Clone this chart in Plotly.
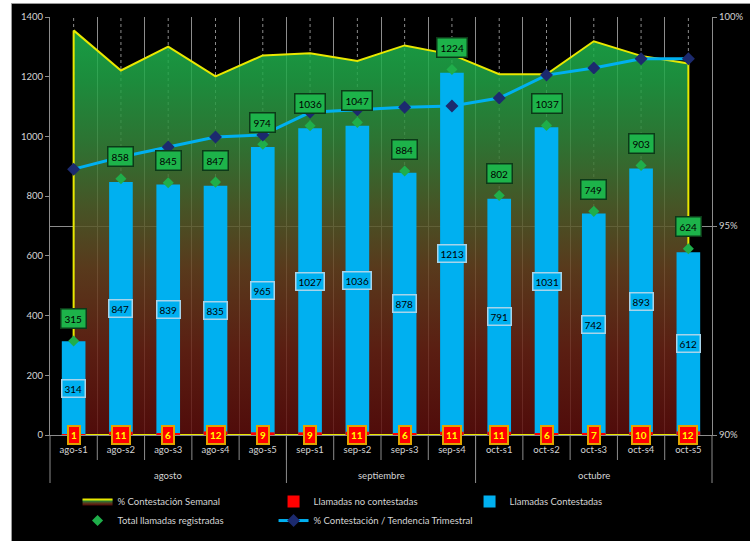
import plotly.graph_objects as go

# ---------------- data ----------------
months = ["agosto"] * 5 + ["septiembre"] * 4 + ["octubre"] * 5
weeks = ["ago-s1", "ago-s2", "ago-s3", "ago-s4", "ago-s5",
         "sep-s1", "sep-s2", "sep-s3", "sep-s4",
         "oct-s1", "oct-s2", "oct-s3", "oct-s4", "oct-s5"]
total_llamadas = [315, 858, 845, 847, 974, 1036, 1047, 884, 1224, 802, 1037, 749, 903, 624]
contestadas = [314, 847, 839, 835, 965, 1027, 1036, 878, 1213, 791, 1031, 742, 893, 612]
no_contestadas = [1, 11, 6, 12, 9, 9, 11, 6, 11, 11, 6, 7, 10, 12]
pct_semanal = [99.68, 98.72, 99.29, 98.58, 99.08, 99.13, 98.95, 99.32, 99.10,
               98.63, 98.63, 99.42, 99.07, 98.89]
pct_trimestral = [96.36, 96.65, 96.89, 97.13, 97.18, 97.72, 97.78, 97.84, 97.87,
                  98.06, 98.61, 98.78, 99.00, 99.00]
count_range = [0, 1400]
count_dtick = 200
pct_range = [90, 100]
pct_ticks = [90, 95, 100]
pct_ticktext = ["90%", "95%", "100%"]

GRID = "#8c8c8c"
TXT = "#d4d4d4"
FONT = "Lato, Liberation Sans, sans-serif"

n = len(weeks)
idx = list(range(n))

# closed polygon for the area (top edge, drop to axis minimum, back to start)
x_area = weeks + [weeks[-1], weeks[0], weeks[0]]
y_area = pct_semanal + [pct_range[0], pct_range[0], pct_semanal[0]]

fig = go.Figure()

fig.add_trace(go.Scatter(
    x=x_area, y=y_area, yaxis="y", mode="lines",
    name="% Contestación Semanal", legendrank=1,
    line=dict(color="#e8e800", width=2),
    fill="toself",
    fillgradient=dict(
        type="vertical", start=pct_range[0], stop=pct_range[1],
        colorscale=[
            [0.0, "rgba(94,14,12,0.85)"],
            [0.2, "rgba(106,35,21,0.85)"],
            [0.4, "rgba(104,68,33,0.85)"],
            [0.55, "rgba(82,100,45,0.85)"],
            [0.7, "rgba(53,135,59,0.85)"],
            [0.85, "rgba(33,165,71,0.85)"],
            [1.0, "rgba(26,188,82,0.85)"],
        ]),
    hoverinfo="skip",
))

fig.add_trace(go.Bar(
    x=weeks, y=contestadas, yaxis="y2", width=0.5,
    name="Llamadas Contestadas", legendrank=3,
    marker=dict(color="#00b0f0", line=dict(width=0)),
))
fig.add_trace(go.Bar(
    x=weeks, y=no_contestadas, yaxis="y2", width=0.5,
    name="Llamadas no contestadas", legendrank=2,
    marker=dict(color="#ff0000", line=dict(width=0)),
))
fig.add_trace(go.Scatter(
    x=weeks, y=total_llamadas, yaxis="y2", mode="markers",
    name="Total llamadas registradas", legendrank=4,
    marker=dict(symbol="diamond", size=8.5, color="#1fae4a"),
))
fig.add_trace(go.Scatter(
    x=weeks, y=pct_trimestral, yaxis="y3", mode="lines+markers",
    name="% Contestación / Tendencia Trimestral", legendrank=5,
    line=dict(color="#00b0f0", width=3),
    marker=dict(symbol="diamond", size=10, color="#1c2a6e"),
))

annotations = []
for i in idx:
    annotations.append(dict(
        x=weeks[i], y=total_llamadas[i], xref="x", yref="y2", yshift=22,
        text=str(total_llamadas[i]), showarrow=False,
        font=dict(family=FONT, size=10, color="#000000"),
        bgcolor="#1db34a", bordercolor="#0c3a18", borderwidth=1.5, borderpad=3))
    annotations.append(dict(
        x=weeks[i], y=contestadas[i] / 2, xref="x", yref="y2",
        text=str(contestadas[i]), showarrow=False,
        font=dict(family=FONT, size=10, color="#000000"),
        bgcolor="#00b0f0", bordercolor="#a8d4ea", borderwidth=1.5, borderpad=2))
    annotations.append(dict(
        x=weeks[i], y=0, xref="x", yref="y2",
        text="<b>%d</b>" % no_contestadas[i], showarrow=False,
        font=dict(family=FONT, size=10, color="#ffff00"),
        bgcolor="#ff0000", bordercolor="#e0a400", borderwidth=2, borderpad=2))

# month group labels and dividers
month_names = []
for m in months:
    if m not in month_names:
        month_names.append(m)
group_bounds = []
for m in month_names:
    pos = [i for i in idx if months[i] == m]
    annotations.append(dict(
        x=sum(pos) / len(pos), y=-40 / 418, xref="x", yref="paper",
        xanchor="center", yanchor="middle",
        text=m, showarrow=False, font=dict(family=FONT, size=9.5, color=TXT)))
    group_bounds.append(pos[0] - 0.5)
group_bounds.append(n - 0.5)

shapes = [
    # black chart area with thin grey frame (white strip on left / top edge)
    dict(type="rect", xref="paper", yref="paper", x0=-0.0582, x1=1.3, y0=-0.4, y1=1.0323,
         fillcolor="black", line=dict(color="#9a9a9a", width=1), layer="below"),
]
for i in idx:
    shapes.append(dict(type="line", xref="x", yref="y", x0=i, x1=i,
                       y0=pct_range[0], y1=pct_range[1],
                       line=dict(color=GRID, width=1, dash="dot"), layer="below"))
# long tick marks between the week labels
for i in idx[:-1]:
    shapes.append(dict(type="line", xref="x", yref="y domain", x0=i + 0.5, x1=i + 0.5,
                       y0=0, y1=-25 / 418, line=dict(color=GRID, width=1), layer="above"))
# month dividers
for b in group_bounds:
    if b in (-0.5, n - 0.5):
        xd = 0 if b < 0 else 1
        shapes.append(dict(type="line", xref="x domain", yref="y domain", x0=xd, x1=xd,
                           y0=0, y1=-48 / 418, line=dict(color=GRID, width=1), layer="above"))
    else:
        shapes.append(dict(type="line", xref="x", yref="y domain", x0=b, x1=b,
                           y0=0, y1=-48 / 418, line=dict(color=GRID, width=1), layer="above"))

fig.update_layout(
    width=750, height=541,
    margin=dict(l=50, r=38, t=17, b=106, autoexpand=False),
    paper_bgcolor="white", plot_bgcolor="black",
    barmode="overlay",
    font=dict(family=FONT, size=10, color=TXT),
    showlegend=True,
    xaxis=dict(type="category", range=[-0.5, n - 0.5], automargin=False,
               showline=True, linecolor=GRID, linewidth=1,
               ticks="", tickson="boundaries", ticklabelstandoff=6,
               showgrid=True, gridcolor=GRID, gridwidth=1,
               tickfont=dict(family=FONT, size=9.5, color=TXT)),
    yaxis=dict(range=pct_range, side="right", tickvals=pct_ticks, ticktext=pct_ticktext,
               automargin=False,
               showgrid=True, gridcolor=GRID, zeroline=False,
               showline=True, linecolor=GRID, ticks="outside", ticklen=4, tickcolor=GRID,
               tickfont=dict(family=FONT, size=9.5, color=TXT)),
    yaxis2=dict(range=count_range, dtick=count_dtick, overlaying="y", side="left",
                automargin=False,
                showgrid=False, zeroline=False, showline=True, linecolor=GRID,
                ticks="outside", ticklen=4, tickcolor=GRID,
                tickfont=dict(family=FONT, size=9.5, color=TXT)),
    yaxis3=dict(range=pct_range, overlaying="y", visible=False),
    legend=dict(orientation="h", x=0.0416, xanchor="left", y=-0.1245, yanchor="top",
                entrywidth=151, entrywidthmode="pixels", bgcolor="rgba(0,0,0,0)",
                font=dict(family=FONT, size=9.5, color=TXT)),
    annotations=annotations,
    shapes=shapes,
)

fig.write_html("out.html", config={"displayModeBar": False},
               post_script="document.body.style.margin='0';document.body.style.padding='0';")
